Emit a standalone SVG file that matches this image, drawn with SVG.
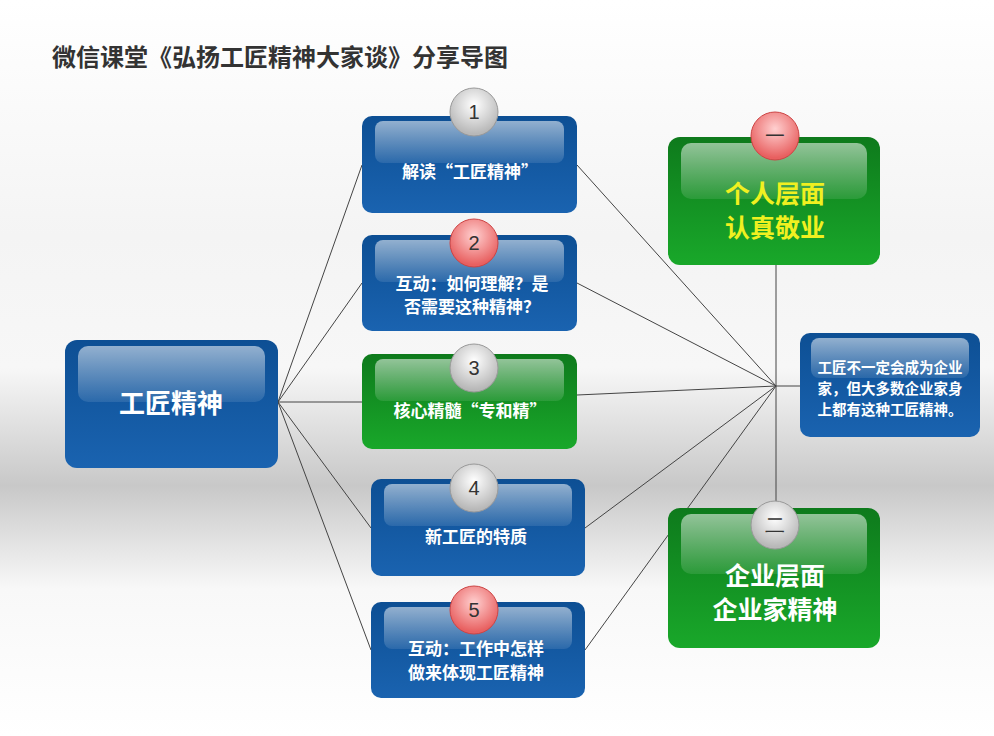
<svg xmlns="http://www.w3.org/2000/svg" width="994" height="736" viewBox="0 0 994 736">
<defs>
<linearGradient id="bg" x1="0" y1="0" x2="0" y2="1">
<stop offset="0" stop-color="#ffffff"/><stop offset="0.32" stop-color="#f4f4f4"/><stop offset="0.5" stop-color="#f7f7f7"/><stop offset="0.66" stop-color="#c8c8c8"/><stop offset="0.8" stop-color="#f8f8f8"/><stop offset="1" stop-color="#ffffff"/>
</linearGradient>
<linearGradient id="blue" x1="0" y1="0" x2="0" y2="1"><stop offset="0" stop-color="#0d4f94"/><stop offset="1" stop-color="#1a63b0"/></linearGradient>
<linearGradient id="green" x1="0" y1="0" x2="0" y2="1"><stop offset="0" stop-color="#0e7a1c"/><stop offset="1" stop-color="#19a82a"/></linearGradient>
<linearGradient id="gloss" x1="0" y1="0" x2="0" y2="1"><stop offset="0" stop-color="#fff" stop-opacity="0.55"/><stop offset="1" stop-color="#fff" stop-opacity="0.1"/></linearGradient>
<radialGradient id="gray" cx="0.5" cy="0.35" r="0.6"><stop offset="0" stop-color="#ffffff"/><stop offset="1" stop-color="#b8b8b8"/></radialGradient>
<radialGradient id="red" cx="0.5" cy="0.35" r="0.6"><stop offset="0" stop-color="#ffd0d0"/><stop offset="1" stop-color="#e86060"/></radialGradient>
</defs>
<style>
.t{font-family:"Noto Sans CJK SC",sans-serif;font-weight:bold;fill:#fff;text-anchor:middle}
.n{font-family:"Liberation Sans",sans-serif;font-size:20px;fill:#333;text-anchor:middle}
.c{stroke:#444;stroke-width:1;fill:none}
.cg{stroke:#999;stroke-width:1}
.cr{stroke:#c44;stroke-width:1}
</style>
<rect width="994" height="736" fill="url(#bg)"/>
<text x="52" y="66" font-family="Noto Sans CJK SC,sans-serif" font-weight="bold" font-size="24" fill="#333">微信课堂《弘扬工匠精神大家谈》分享导图</text>
<g id="connectors">
<path class="c" d="M278 402L362 165M278 402L362 283M278 402L362 402M278 402L371 528M278 402L371 650M577 165L776 386M577 283L776 386M577 395L776 386M585 528L776 386M585 650L776 386M776 265V508M776 386H800"/>
</g>
<g id="main"><rect x="65" y="340" width="213" height="128" rx="12" fill="url(#blue)"/><rect x="78" y="346" width="187" height="56" rx="10" fill="url(#gloss)"/><text class="t" x="171" y="413" font-size="26">工匠精神</text></g>
<g id="n1"><rect x="362" y="116" width="215" height="97" rx="10" fill="url(#blue)"/><rect x="375" y="121" width="189" height="42" rx="8" fill="url(#gloss)"/><circle class="cg" cx="474" cy="112" r="24" fill="url(#gray)"/><text class="n" x="474" y="119">1</text><text class="t" x="470" y="178" font-size="17">解读“工匠精神”</text></g>
<g id="n2"><rect x="362" y="235" width="215" height="96" rx="10" fill="url(#blue)"/><rect x="375" y="240" width="189" height="42" rx="8" fill="url(#gloss)"/><circle class="cr" cx="474" cy="243" r="24" fill="url(#red)"/><text class="n" x="474" y="250">2</text><text class="t" x="472" y="290" font-size="17">互动：如何理解？是</text><text class="t" x="472" y="313" font-size="17">否需要这种精神？</text></g>
<g id="n3"><rect x="362" y="354" width="215" height="95" rx="10" fill="url(#green)"/><rect x="375" y="359" width="189" height="42" rx="8" fill="url(#gloss)"/><circle class="cg" cx="474" cy="368" r="24" fill="url(#gray)"/><text class="n" x="474" y="375">3</text><text class="t" x="470" y="417" font-size="17">核心精髓“专和精”</text></g>
<g id="n4"><rect x="371" y="479" width="214" height="97" rx="10" fill="url(#blue)"/><rect x="384" y="484" width="188" height="42" rx="8" fill="url(#gloss)"/><circle class="cg" cx="474" cy="488" r="24" fill="url(#gray)"/><text class="n" x="474" y="495">4</text><text class="t" x="476" y="543" font-size="17">新工匠的特质</text></g>
<g id="n5"><rect x="371" y="602" width="214" height="96" rx="10" fill="url(#blue)"/><rect x="384" y="607" width="188" height="42" rx="8" fill="url(#gloss)"/><circle class="cr" cx="474" cy="610" r="24" fill="url(#red)"/><text class="n" x="474" y="617">5</text><text class="t" x="476" y="655" font-size="17">互动：工作中怎样</text><text class="t" x="476" y="679" font-size="17">做来体现工匠精神</text></g>
<g id="g1"><rect x="668" y="137" width="212" height="128" rx="12" fill="url(#green)"/><rect x="681" y="143" width="186" height="56" rx="10" fill="url(#gloss)"/><circle class="cr" cx="775" cy="136" r="24" fill="url(#red)"/><text class="n" x="775" y="143">一</text><text class="t" x="775" y="203" font-size="25" style="fill:#f0f020">个人层面</text><text class="t" x="775" y="237" font-size="25" style="fill:#f0f020">认真敬业</text></g>
<g id="g2"><rect x="668" y="508" width="212" height="140" rx="12" fill="url(#green)"/><rect x="681" y="514" width="186" height="60" rx="10" fill="url(#gloss)"/><circle class="cg" cx="775" cy="525" r="24" fill="url(#gray)"/><text class="n" x="775" y="532">二</text><text class="t" x="775" y="585" font-size="25">企业层面</text><text class="t" x="775" y="619" font-size="25">企业家精神</text></g>
<g id="r"><rect x="800" y="333" width="180" height="104" rx="10" fill="url(#blue)"/><rect x="811" y="338" width="158" height="40" rx="8" fill="url(#gloss)"/><text class="t" x="890" y="373" font-size="14.5">工匠不一定会成为企业</text><text class="t" x="890" y="394" font-size="14.5">家，但大多数企业家身</text><text class="t" x="890" y="415" font-size="14.5">上都有这种工匠精神。</text></g>
</svg>
